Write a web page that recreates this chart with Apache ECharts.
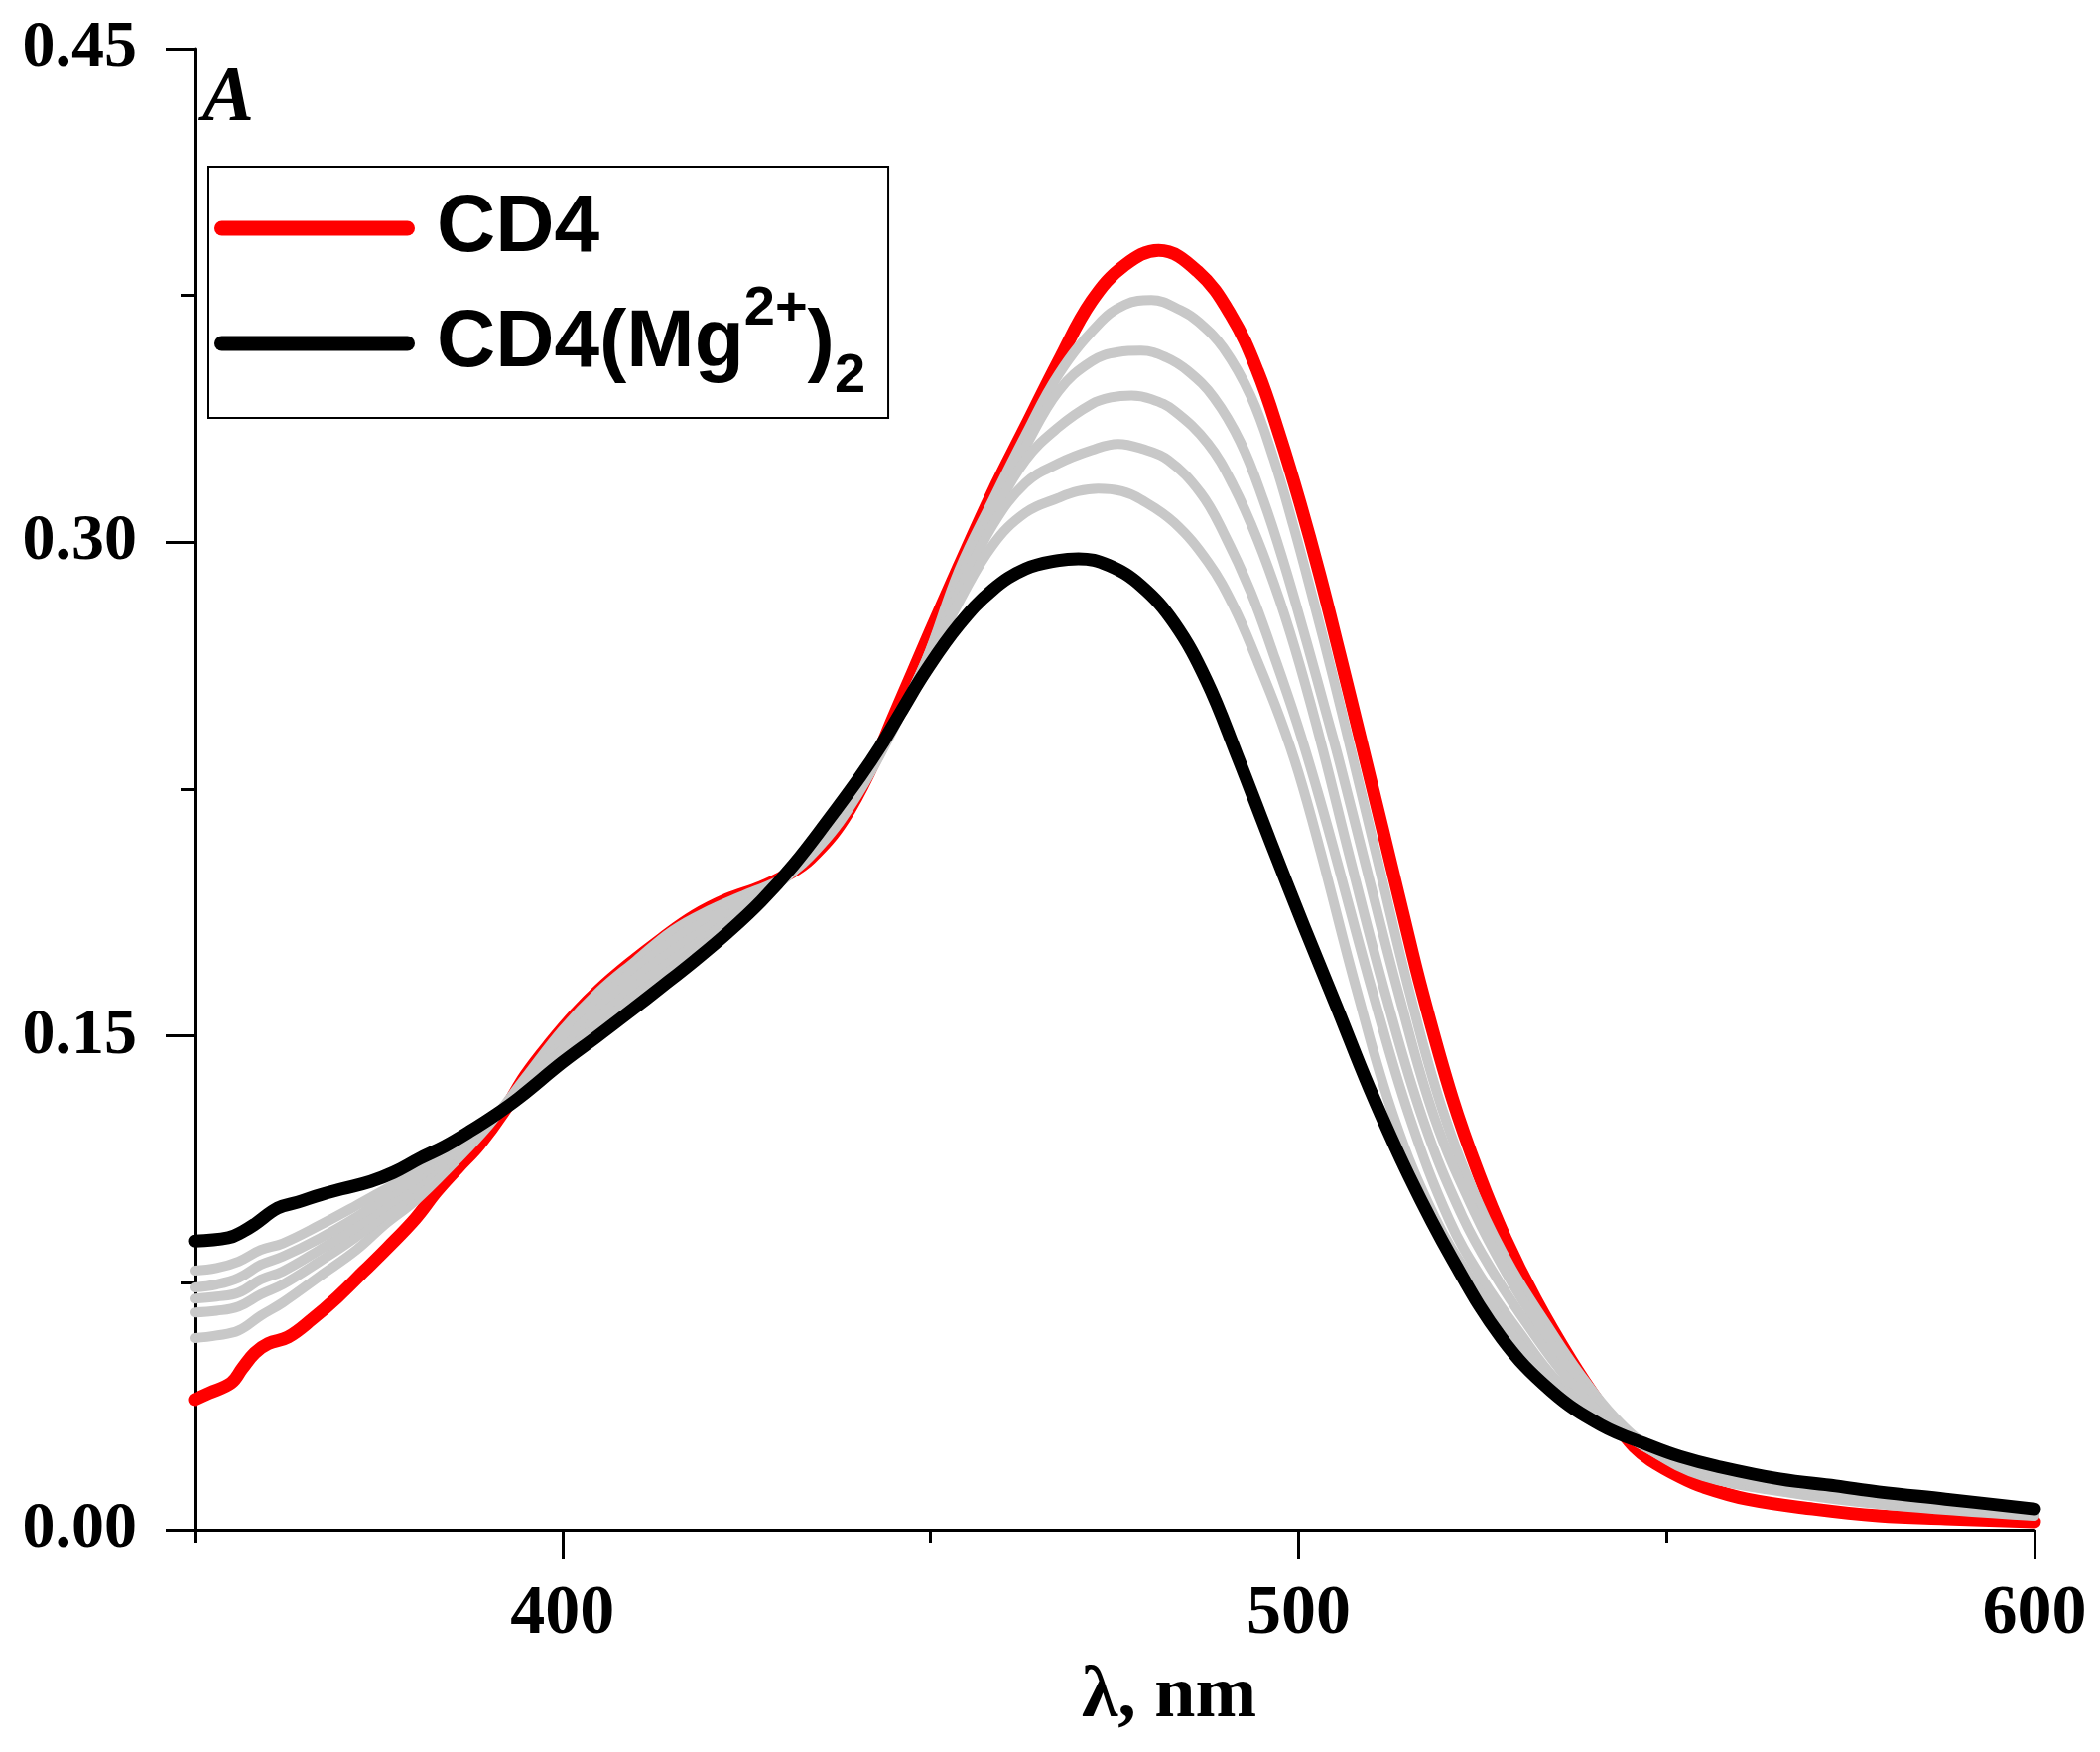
<!DOCTYPE html>
<html><head><meta charset="utf-8">
<script src="https://cdn.jsdelivr.net/npm/echarts@6/dist/echarts.min.js"></script>
<style>html,body{margin:0;padding:0;background:#fff}#c{width:2116px;height:1765px}</style>
</head><body><div id="c"></div>
<script>
// ---- Data ----
const xTickLabels = [400, 500, 600];
const xMinorTicks = [350, 450, 550];
const yTickLabels = [0, 0.15, 0.30, 0.45];

const cd4Wl = [350,352,355,356.5,358.2,360,362.7,366,369.4,373,376.2,380,382.9,385.8,388.7,392,395,398.5,401.8,405,408.9,413.5,418,422.4,427,430.5,433.7,438.2,442.6,445,447.6,450,453.9,458.4,462.9,467.4,471.9,476.4,481,486.3,490.8,494.4,497.5,500.2,502.9,505.6,508.4,511.4,514.1,516.8,520.9,524.5,528.1,532.2,537,541,543.4,545.6,547.8,551.9,555,560.9,569.9,578.8,587.9,600];
const cd4Abs = [.0395,.0415,.0446,.0490,.0537,.0565,.0585,.0640,.0706,.0785,.0856,.0945,.1028,.1100,.1170,.1270,.1380,.1482,.1568,.1640,.1715,.1795,.1865,.1915,.1952,.1990,.2040,.2160,.2345,.2470,.2605,.2730,.2928,.3149,.3350,.3550,.3733,.3842,.3887,.3823,.3691,.3522,.3320,.3120,.2900,.2660,.2405,.2130,.1880,.1635,.1310,.1080,.0885,.0700,.0515,.0380,.0312,.0252,.0212,.0160,.0130,.0093,.0063,.0042,.0033,.0024];

const cd4MgWl = [350,354.6,356.5,358.2,361.3,364,367.2,370,373.9,377,380.6,384,387.4,391,394.1,400,404.5,408.9,413.5,418,422.5,427,431.4,435.9,440.5,443.2,446,449.4,453.9,458.4,462.9,467.4,470.1,474.2,478.6,483.1,487.5,491.7,496.2,500.7,505.2,509.7,515,520.9,527.6,534.3,541.1,547.8,551.9,556.8,565.4,573,578.8,587.9,600];
const cd4MgAbs = [.0877,.0887,.0905,.0928,.0977,.0995,.1018,.1035,.1058,.1085,.1128,.1165,.1210,.1262,.1312,.1420,.1495,.1570,.1650,.1730,.1815,.1910,.2020,.2150,.2290,.2380,.2485,.2610,.2750,.2855,.2919,.2945,.2950,.2930,.2868,.2755,.2580,.2350,.2090,.1835,.1588,.1338,.1075,.0822,.0582,.0422,.0318,.0255,.0222,.0193,.0154,.0133,.0115,.0093,.0063];

// intermediate titration spectra (grey); shared wavelength grid on the rising side
const titrLeftWl = [350,353,356,359,362,367,372,376,380,385,390,395,400,405,410,415,420,425,430,435,440,445,449.4,453.9,458.4];

const titr1Wl = titrLeftWl.concat([462.9,467.4,472.8,476.4,480,484,486.5,489.8,493.5,496.6,499.3,502,504.7,507,511,515,519.5,524.5,529,533.8,538,543,548,555,565,580,600]);
const titr1Abs = [.0582,.0590,.0605,.0650,.0690,.0770,.0850,.0930,.1000,.1110,.1230,.1374,.1517,.1635,.1729,.1820,.1882,.1931,.1980,.2078,.2230,.2435,.2640,.2915,.3125,
  .3325,.3510,.3662,.3722,.3736,.3705,.3668,.3590,.3445,.3255,.3050,.2825,.2590,.2380,.2010,.1640,.1280,.0990,.0790,.0620,.0480,.0340,.0245,.0165,.0118,.0075,.0042];

const titr2Wl = titrLeftWl.concat([462.9,467.4,471.9,475.5,478.6,482,485,488.5,492.1,495.2,497.9,501.2,503.9,505.6,509,513.7,518.5,524,528.5,532.8,537.5,542.5,548,555,565,580,600]);
const titr2Abs = [.0660,.0665,.0678,.0715,.0745,.0815,.0890,.0960,.1025,.1125,.1235,.1362,.1500,.1610,.1705,.1790,.1858,.1915,.1975,.2088,.2235,.2438,.2640,.2900,.3100,
  .3290,.3460,.3550,.3578,.3582,.3562,.3520,.3440,.3305,.3130,.2945,.2690,.2470,.2330,.2030,.1620,.1250,.0960,.0770,.0615,.0465,.0335,.0240,.0163,.0121,.0079,.0044];

const titr3Wl = titrLeftWl.concat([462.9,467.4,471.9,474.5,477.3,480,483.1,487.7,491.2,494.4,497.5,500.2,503.3,507,511.9,517,522.3,526.5,531.5,536.5,542,548,555,565,580,600]);
const titr3Abs = [.0702,.0708,.0720,.0760,.0785,.0850,.0920,.0985,.1045,.1140,.1240,.1350,.1480,.1585,.1678,.1760,.1832,.1900,.1975,.2098,.2245,.2440,.2635,.2880,.3080,
  .3250,.3350,.3420,.3440,.3446,.3435,.3400,.3300,.3170,.3010,.2820,.2625,.2370,.2040,.1620,.1240,.0950,.0780,.0610,.0460,.0330,.0240,.0167,.0125,.0082,.0046];

const titr4Wl = titrLeftWl.concat([462.9,467.4,471.9,475.5,478.6,482.3,486.7,489.8,493.5,496.6,499.8,502.5,505,510.1,515,520.5,525,530,535,541.5,548,555,565,580,600]);
const titr4Abs = [.0736,.0745,.0765,.0805,.0830,.0885,.0950,.1010,.1065,.1155,.1245,.1340,.1460,.1558,.1650,.1730,.1808,.1885,.1978,.2108,.2252,.2440,.2630,.2850,.3050,
  .3180,.3240,.3280,.3299,.3285,.3250,.3150,.3030,.2850,.2660,.2450,.2250,.2050,.1630,.1260,.0940,.0760,.0600,.0455,.0325,.0243,.0170,.0130,.0086,.0048];

const titr5Wl = titrLeftWl.concat([462.9,467.4,470,472.8,476,478.6,483.1,487.7,491.2,494.4,497.5,500,503,507.9,513,518.5,523.5,528.5,534,541,548,555,565,580,600]);
const titr5Abs = [.0787,.0795,.0815,.0850,.0870,.0925,.0985,.1035,.1085,.1170,.1250,.1330,.1442,.1535,.1625,.1705,.1788,.1872,.1980,.2115,.2260,.2440,.2625,.2820,.2990,
  .3090,.3135,.3155,.3163,.3155,.3130,.3060,.2940,.2805,.2640,.2465,.2300,.2060,.1640,.1250,.0950,.0760,.0610,.0460,.0330,.0248,.0175,.0135,.0090,.0050];

const seriesNames = ['CD4', 'CD4(Mg2+)2'];

// ---- Chart ----
const zip = (w, a) => w.map((x, i) => [x, a[i]]);
const serif = 'Liberation Serif';
const sans = 'Liberation Sans';
const chart = echarts.init(document.getElementById('c'), null, {renderer: 'canvas'});

const greys = [[titr1Wl, titr1Abs], [titr2Wl, titr2Abs], [titr3Wl, titr3Abs], [titr4Wl, titr4Abs], [titr5Wl, titr5Abs]];
const greySeries = greys.map((g, i) => ({
  type: 'line', name: 'titration ' + (i + 1), data: zip(g[0], g[1]),
  symbol: 'none', smooth: 0.4, silent: true, z: 3,
  lineStyle: {color: '#c8c8c8', width: 10, cap: 'round', join: 'round'},
  itemStyle: {color: '#c8c8c8'}
}));

const txt = (size, lh, va) => ({fontSize: size, fontWeight: 'bold', fontFamily: sans, color: '#000', lineHeight: lh, verticalAlign: va});

const option = {
  animation: false,
  backgroundColor: '#ffffff',
  grid: {left: 196, right: 66, top: 49, bottom: 224},
  xAxis: [{
    type: 'value', min: 350, max: 600, interval: 50,
    axisLine: {onZero: false, lineStyle: {color: '#000', width: 3}},
    axisTick: {customValues: xTickLabels, length: 30, lineStyle: {color: '#000', width: 3}},
    axisLabel: {customValues: xTickLabels, margin: 51, color: '#000', fontFamily: serif, fontWeight: 'bold', fontSize: 70},
    splitLine: {show: false},
    name: 'λ, nm', nameLocation: 'middle', nameGap: 132,
    nameTextStyle: {color: '#000', fontFamily: serif, fontWeight: 'bold', fontSize: 74, padding: [0, 0, 0, 110]}
  }, {
    type: 'value', min: 350, max: 600, interval: 50, position: 'bottom',
    axisLine: {show: false},
    axisTick: {customValues: xMinorTicks, length: 13, lineStyle: {color: '#000', width: 3}},
    axisLabel: {show: false}, splitLine: {show: false}
  }],
  yAxis: {
    type: 'value', min: 0, max: 0.45, interval: 0.15,
    axisLine: {show: true, onZero: false, lineStyle: {color: '#000', width: 3}},
    axisTick: {show: true, length: 29, lineStyle: {color: '#000', width: 3}},
    minorTick: {show: true, splitNumber: 2, length: 14, lineStyle: {color: '#000', width: 3}},
    axisLabel: {margin: 58, color: '#000', fontFamily: serif, fontWeight: 'bold', fontSize: 66,
      formatter: v => (yTickLabels.some(t => Math.abs(t - v) < 1e-9) ? v.toFixed(2) : '')},
    splitLine: {show: false},
    name: 'A', nameLocation: 'end', nameGap: -12,
    nameTextStyle: {color: '#000', fontFamily: serif, fontStyle: 'italic', fontWeight: 'bold', fontSize: 78,
      align: 'left', verticalAlign: 'top', padding: [0, 0, 0, 8]}
  },
  legend: {
    data: seriesNames, orient: 'vertical', left: 210, top: 168,
    borderColor: '#000', borderWidth: 2, padding: [21, 23, 13, 6],
    itemWidth: 202, itemHeight: 15, itemGap: 13,
    icon: 'path://M7.5,0 L194.5,0 A7.5,7.5 0 0 1 194.5,15 L7.5,15 A7.5,7.5 0 0 1 7.5,0 Z',
    selectedMode: false,
    formatter: n => n === 'CD4' ? '{gap|}{m1|CD4}' : '{gap|}{m2|CD4(Mg}{sup|2+}{m2|)}{sub|2}',
    textStyle: {
      color: '#000',
      rich: {
        gap: {width: 17},
        m1: txt(82, 90, 'middle'),
        m2: txt(82, 124, 'middle'),
        sup: txt(56, 36, 'top'),
        sub: txt(56, 14, 'bottom')
      }
    }
  },
  series: [
    {type: 'line', name: seriesNames[0], data: zip(cd4Wl, cd4Abs), symbol: 'none', smooth: 0.4, z: 2,
      lineStyle: {color: '#ff0000', width: 13, cap: 'round', join: 'round'}, itemStyle: {color: '#ff0000'}, color: '#ff0000'},
    ...greySeries,
    {type: 'line', name: seriesNames[1], data: zip(cd4MgWl, cd4MgAbs), symbol: 'none', smooth: 0.4, z: 4,
      lineStyle: {color: '#000000', width: 13, cap: 'round', join: 'round'}, itemStyle: {color: '#000000'}, color: '#000000'}
  ]
};
chart.setOption(option);
</script>
</body></html>
